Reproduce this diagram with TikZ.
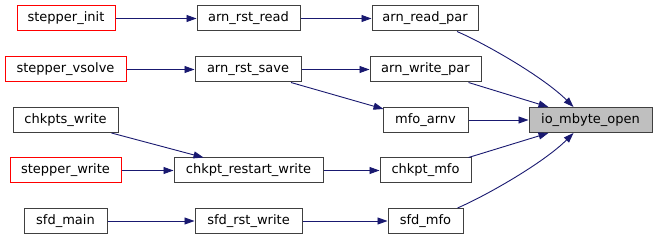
\documentclass[tikz,border=0pt]{standalone}
\usepackage{fontspec}
\setmainfont{DejaVu Sans}
\usetikzlibrary{arrows.meta}
\definecolor{edgeblue}{HTML}{191970}
\definecolor{boxgray}{HTML}{404040}
\definecolor{focusfill}{HTML}{BFBFBF}
\tikzset{
  fn/.style={draw=boxgray, line width=1pt, inner sep=0pt, minimum height=25pt,
    font=\fontsize{13}{15}\selectfont, text=black},
  trunc/.style={fn, draw=red},
  focus/.style={fn, fill=focusfill},
  call/.style={draw=edgeblue, line width=0.9pt, -{Triangle[length=10pt,width=7pt]}, color=edgeblue},
}
\begin{document}
\begin{tikzpicture}[x=1pt,y=-1pt]
\useasboundingbox (0,0) rectangle (657,240);
% callers (left column)
\node[trunc, minimum width=98pt]  (stepinit)   at (66,18.5)   {stepper\_init};
\node[trunc, minimum width=121pt] (stepvsolve) at (65.5,69.5) {stepper\_vsolve};
\node[fn,    minimum width=105pt] (chkptswr)   at (65.5,120)  {chkpts\_write};
\node[trunc, minimum width=111pt] (stepwrite)  at (65.5,170.5){stepper\_write};
\node[fn,    minimum width=83pt]  (sfdmain)    at (65.5,221)  {sfd\_main};
% middle column
\node[fn, minimum width=103pt] (rstread)   at (248.5,18.5)  {arn\_rst\_read};
\node[fn, minimum width=106pt] (rstsave)   at (248,69.5)    {arn\_rst\_save};
\node[fn, minimum width=149pt] (restartwr) at (248.5,170.5) {chkpt\_restart\_write};
\node[fn, minimum width=107pt] (sfdrstwr)  at (248.5,221)   {sfd\_rst\_write};
% right column
\node[fn, minimum width=106pt] (readpar)  at (425,18.5)   {arn\_read\_par};
\node[fn, minimum width=111pt] (writepar) at (425.5,69.5) {arn\_write\_par};
\node[fn, minimum width=85pt]  (mfoarnv)  at (425.5,120)  {mfo\_arnv};
\node[fn, minimum width=91pt]  (chkptmfo) at (425.5,170.5){chkpt\_mfo};
\node[fn, minimum width=75pt]  (sfdmfo)   at (425.5,221)  {sfd\_mfo};
% the routine itself
\node[focus, minimum width=123pt] (mbyte) at (590.5,120) {io\_mbyte\_open};

% calls
\draw[call] (stepinit) -- (rstread);
\draw[call] (rstread) -- (readpar);
\draw[call] (stepvsolve) -- (rstsave);
\draw[call] (rstsave) -- (writepar);
\draw[call] ([xshift=43pt]rstsave.south) -- ([xshift=-42pt,yshift=-2pt]mfoarnv.north);
\draw[call] ([xshift=46pt]chkptswr.south) -- ([xshift=-45pt]restartwr.north);
\draw[call] (stepwrite) -- (restartwr);
\draw[call] (restartwr) -- (chkptmfo);
\draw[call] (sfdmain) -- (sfdrstwr);
\draw[call] (sfdrstwr) -- (sfdmfo);

\draw[call] ([xshift=32pt]readpar.south) .. controls +(28,12) and +(-30,-30) .. ([xshift=-17pt]mbyte.north);
\draw[call] ([xshift=43pt]writepar.south) -- ([xshift=-42pt]mbyte.north);
\draw[call] (mfoarnv) -- (mbyte);
\draw[call] ([xshift=43pt]chkptmfo.north) -- ([xshift=-42pt]mbyte.south);
\draw[call] ([xshift=32pt]sfdmfo.north) .. controls +(28,-12) and +(-30,30) .. ([xshift=-17pt]mbyte.south);
\end{tikzpicture}
\end{document}
